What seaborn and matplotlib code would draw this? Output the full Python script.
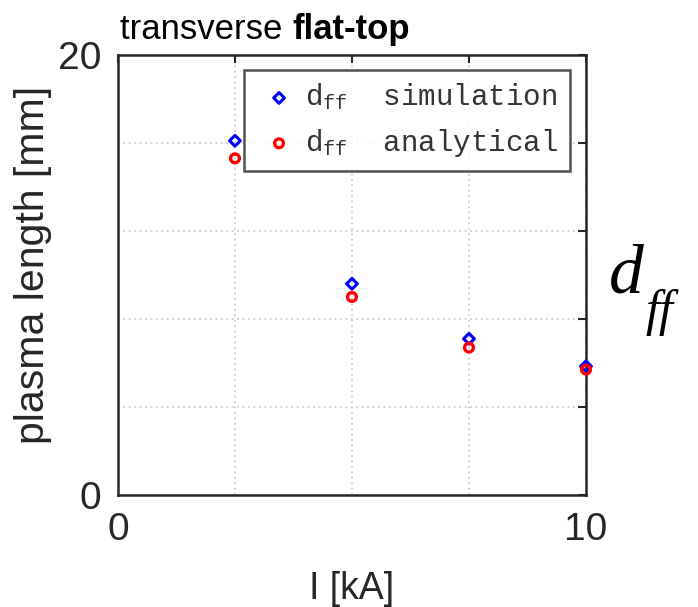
import matplotlib
matplotlib.use("Agg")
import matplotlib.pyplot as plt
import seaborn as sns
import pandas as pd

# Plasma length d_ff versus discharge current
current_kA = [2.5, 5.0, 7.5, 10.0]
d_ff_simulation = [16.1, 9.6, 7.1, 5.85]
d_ff_analytical = [15.3, 9.0, 6.7, 5.7]

x_ticks = [0, 2.5, 5, 7.5, 10]
x_ticklabels = ["0", "", "", "", "10"]
y_ticks = [0, 4, 8, 12, 16, 20]
y_ticklabels = ["0", "", "", "", "", "20"]

sns.set_theme(style="white")
plt.rcParams["font.family"] = ["Liberation Sans", "DejaVu Sans"]
plt.rcParams["mathtext.fontset"] = "custom"
plt.rcParams["mathtext.rm"] = "Liberation Mono"
plt.rcParams["mathtext.it"] = "Liberation Mono"

df = pd.DataFrame({
    "I": current_kA * 2,
    "d": d_ff_simulation + d_ff_analytical,
    "series": ["simulation"] * len(current_kA) + ["analytical"] * len(current_kA),
})

fig = plt.figure(figsize=(6.98, 6.07), dpi=100)
ax = fig.add_axes([0.169, 0.1845, 0.6705, 0.725])

sim = df[df.series == "simulation"]
ana = df[df.series == "analytical"]
sns.scatterplot(data=sim, x="I", y="d", ax=ax, marker="D", s=30,
                facecolor="none", edgecolor="#0000ff", linewidth=2.2,
                label="d$_\\mathrm{ff}$  simulation", zorder=3, clip_on=False)
sns.scatterplot(data=ana, x="I", y="d", ax=ax, marker="o", s=40,
                facecolor="none", edgecolor="#ff0000", linewidth=2.4,
                label="d$_\\mathrm{ff}$  analytical", zorder=3, clip_on=False)

ax.set_xlim(0, 10)
ax.set_ylim(0, 20)
ax.set_xticks(x_ticks)
ax.set_xticklabels(x_ticklabels)
ax.set_yticks(y_ticks)
ax.set_yticklabels(y_ticklabels)
ax.grid(True, color="#cccccc", linestyle=(0, (1, 2)), linewidth=1.3)
for sp in ax.spines.values():
    sp.set_color("#262626")
    sp.set_linewidth(1.8)
ax.tick_params(direction="in", length=6, width=1.5, colors="#262626",
               top=True, right=True, labelsize=28, pad=12)
for lbl in ax.get_xticklabels() + ax.get_yticklabels():
    lbl.set_color("#262626")

ax.set_xlabel("I [kA]", fontsize=27, color="#262626", labelpad=17)
ax.set_ylabel("plasma length [mm]", fontsize=29.5, color="#262626")
ax.yaxis.set_label_coords(-0.142, 0.523)

leg = ax.legend(loc="upper right", bbox_to_anchor=(0.966, 0.966),
                borderaxespad=0,
                prop={"family": "Liberation Mono", "size": 21},
                frameon=True, fancybox=False, handletextpad=0.1,
                borderpad=0.4, labelspacing=0.5, handlelength=1.6)
leg.get_frame().set_edgecolor("#262626")
leg.get_frame().set_linewidth(1.8)
for t in leg.get_texts():
    t.set_color("#333333")

fig.text(0.172, 0.935, "transverse ", fontsize=25, color="black",
         ha="left", va="baseline")
fig.canvas.draw()
r = fig.texts[0].get_window_extent()
fig.text(r.x1 / fig.bbox.width, 0.935, "flat-top", fontsize=25,
         fontweight="bold", color="black", ha="left", va="baseline")

# symbol label beside the axes
fig.text(0.872, 0.518, "d", fontsize=50, family="Liberation Serif",
         style="italic", color="black", ha="left", va="baseline")
fig.text(0.925, 0.465, "ff", fontsize=36, family="Liberation Serif",
         style="italic", color="black", ha="left", va="baseline")

fig.savefig("out.png", dpi=100)
